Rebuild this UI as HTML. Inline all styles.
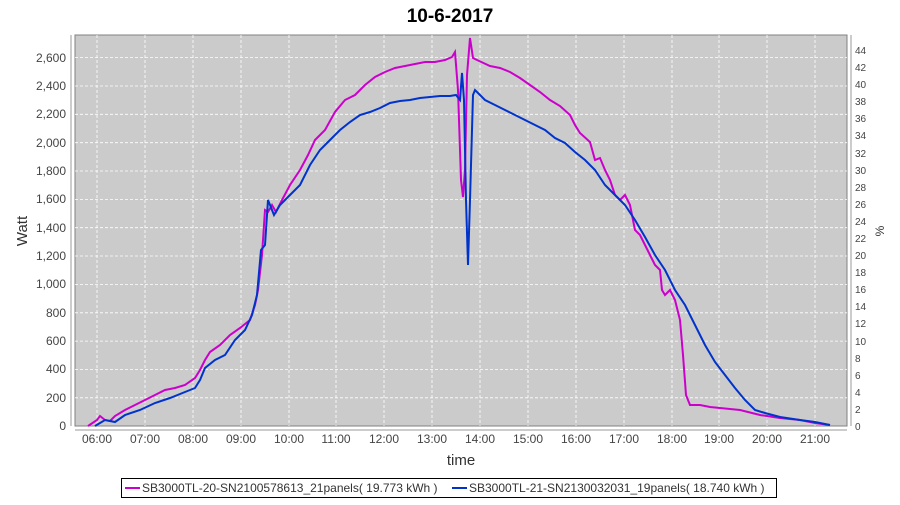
<!DOCTYPE html>
<html><head><style>body{margin:0;background:#fff;width:900px;height:500px;overflow:hidden}</style></head><body>
<svg width="900" height="500" xmlns="http://www.w3.org/2000/svg" font-family="Liberation Sans, sans-serif">
<text x="450" y="22" text-anchor="middle" font-size="19" font-weight="bold" fill="#000">10-6-2017</text>
<rect x="75" y="35" width="772" height="391" fill="#cbcbcb" stroke="#808080"/>
<g stroke="#999" stroke-width="1">
<line x1="71" x2="71" y1="35" y2="426"/><line x1="75" x2="847" y1="430" y2="430"/><line x1="851" x2="851" y1="35" y2="426"/>
</g>
<g stroke="#fff" stroke-dasharray="3,2" stroke-width="0.8">
<line x1="75" x2="847" y1="57.6" y2="57.6"/><line x1="75" x2="847" y1="86" y2="86"/><line x1="75" x2="847" y1="114.3" y2="114.3"/><line x1="75" x2="847" y1="142.7" y2="142.7"/><line x1="75" x2="847" y1="171" y2="171"/><line x1="75" x2="847" y1="199.4" y2="199.4"/><line x1="75" x2="847" y1="227.7" y2="227.7"/><line x1="75" x2="847" y1="256" y2="256"/><line x1="75" x2="847" y1="284.4" y2="284.4"/><line x1="75" x2="847" y1="312.8" y2="312.8"/><line x1="75" x2="847" y1="341.1" y2="341.1"/><line x1="75" x2="847" y1="369.4" y2="369.4"/><line x1="75" x2="847" y1="397.8" y2="397.8"/>
<line y1="35" y2="426" x1="97" x2="97"/><line y1="35" y2="426" x1="145" x2="145"/><line y1="35" y2="426" x1="193" x2="193"/><line y1="35" y2="426" x1="241" x2="241"/><line y1="35" y2="426" x1="289" x2="289"/><line y1="35" y2="426" x1="336" x2="336"/><line y1="35" y2="426" x1="384" x2="384"/><line y1="35" y2="426" x1="432" x2="432"/><line y1="35" y2="426" x1="480" x2="480"/><line y1="35" y2="426" x1="528" x2="528"/><line y1="35" y2="426" x1="576" x2="576"/><line y1="35" y2="426" x1="624" x2="624"/><line y1="35" y2="426" x1="672" x2="672"/><line y1="35" y2="426" x1="719" x2="719"/><line y1="35" y2="426" x1="767" x2="767"/><line y1="35" y2="426" x1="815" x2="815"/>
</g>
<g font-size="12" fill="#444" text-anchor="end">
<text x="66" y="62">2,600</text><text x="66" y="90">2,400</text><text x="66" y="118">2,200</text><text x="66" y="147">2,000</text><text x="66" y="175">1,800</text><text x="66" y="203">1,600</text><text x="66" y="232">1,400</text><text x="66" y="260">1,200</text><text x="66" y="288">1,000</text><text x="66" y="317">800</text><text x="66" y="345">600</text><text x="66" y="373">400</text><text x="66" y="402">200</text><text x="66" y="430">0</text>
</g>
<g font-size="10" fill="#444">
<text x="855" y="430">0</text><text x="855" y="413">2</text><text x="855" y="396">4</text><text x="855" y="379">6</text><text x="855" y="362">8</text><text x="855" y="345">10</text><text x="855" y="327">12</text><text x="855" y="310">14</text><text x="855" y="293">16</text><text x="855" y="276">18</text><text x="855" y="259">20</text><text x="855" y="242">22</text><text x="855" y="225">24</text><text x="855" y="208">26</text><text x="855" y="191">28</text><text x="855" y="174">30</text><text x="855" y="157">32</text><text x="855" y="139">34</text><text x="855" y="122">36</text><text x="855" y="105">38</text><text x="855" y="88">40</text><text x="855" y="71">42</text><text x="855" y="54">44</text>
</g>
<g font-size="12" fill="#444" text-anchor="middle">
<text x="97" y="443">06:00</text><text x="145" y="443">07:00</text><text x="193" y="443">08:00</text><text x="241" y="443">09:00</text><text x="289" y="443">10:00</text><text x="336" y="443">11:00</text><text x="384" y="443">12:00</text><text x="432" y="443">13:00</text><text x="480" y="443">14:00</text><text x="528" y="443">15:00</text><text x="576" y="443">16:00</text><text x="624" y="443">17:00</text><text x="672" y="443">18:00</text><text x="719" y="443">19:00</text><text x="767" y="443">20:00</text><text x="815" y="443">21:00</text>
</g>
<text x="461" y="465" text-anchor="middle" font-size="15" fill="#333">time</text>
<text transform="translate(27,231) rotate(-90)" text-anchor="middle" font-size="15" fill="#333">Watt</text>
<text transform="translate(884,231) rotate(-90)" text-anchor="middle" font-size="12" fill="#333">%</text>
<polyline fill="none" stroke="#cc00cc" stroke-width="2" points="88,426 97,420 100,416 105,420 110,421 115,416 125,410 135,405 145,400 155,395 165,390 175,388 185,385 195,378 200,370 205,360 210,352 220,345 230,335 240,328 250,320 255,305 258,290 262,255 265,210 268,212 272,205 276,212 282,200 290,185 300,170 308,155 315,140 325,130 335,112 345,100 355,95 365,85 375,77 385,72 395,68 405,66 415,64 425,62 435,62 445,60 452,57 455,52 458,90 461,180 463,197 465,170 467,75 470,38 473,58 477,60 490,66 500,68 510,72 520,78 530,85 540,92 550,100 560,106 570,115 575,125 580,133 590,142 595,160 600,158 605,170 610,180 615,195 620,200 625,195 630,205 635,230 640,235 645,245 650,255 655,265 660,270 662,290 665,295 670,290 675,300 680,320 683,355 686,395 690,405 700,405 710,407 720,408 740,410 760,415 780,418 800,420 815,423 830,425"/>
<polyline fill="none" stroke="#0033cc" stroke-width="2" points="95,426 105,420 115,422 125,415 140,410 155,403 170,398 185,392 195,388 200,380 205,368 215,360 225,355 235,340 245,330 252,315 257,295 261,250 265,245 268,200 270,205 274,215 280,205 290,195 300,185 310,165 320,150 330,140 340,130 350,122 360,115 370,112 380,108 390,103 400,101 410,100 420,98 430,97 440,96 450,96 456,95 460,100 462,73 464,100 466,200 468,265 470,200 473,95 475,90 480,95 485,100 495,105 505,110 515,115 525,120 535,125 545,130 555,138 565,143 575,152 585,160 595,170 605,185 615,195 625,205 635,220 645,237 655,255 665,270 675,290 685,305 695,325 705,345 715,362 725,375 735,388 745,400 755,410 765,413 780,417 800,420 815,422 830,425"/>
<rect x="121.5" y="478.5" width="655" height="19" fill="#fff" stroke="#000"/>
<line x1="125" x2="140" y1="488" y2="488" stroke="#cc00cc" stroke-width="2"/>
<text x="142" y="492" font-size="12" fill="#333">SB3000TL-20-SN2100578613_21panels( 19.773 kWh )</text>
<line x1="452" x2="467" y1="488" y2="488" stroke="#0033cc" stroke-width="2"/>
<text x="469" y="492" font-size="12" fill="#333">SB3000TL-21-SN2130032031_19panels( 18.740 kWh )</text>
</svg>
</body></html>
